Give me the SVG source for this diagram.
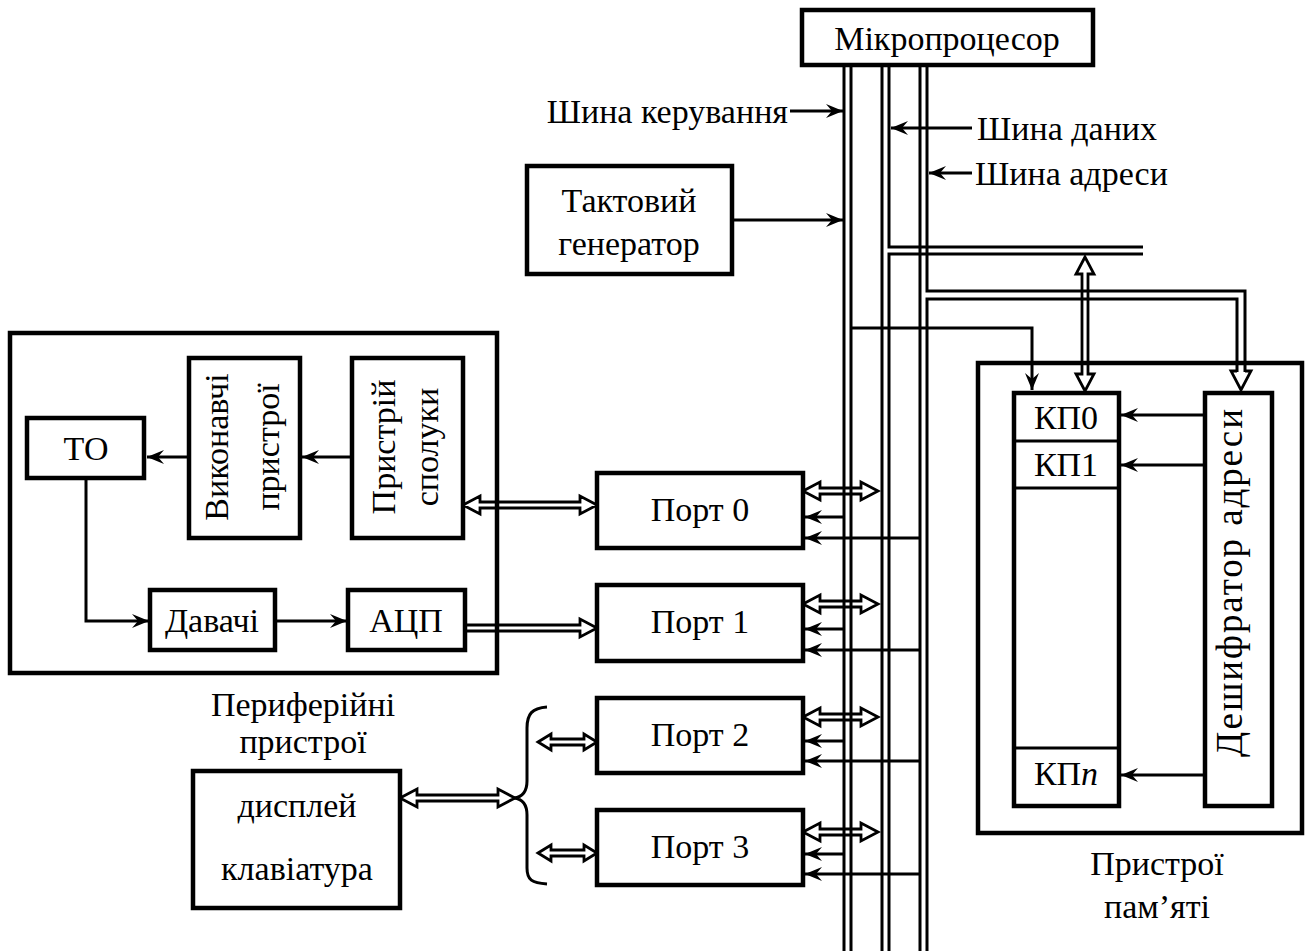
<svg xmlns="http://www.w3.org/2000/svg" width="1307" height="951" viewBox="0 0 1307 951">
  <style>
    .box { fill: #fff; stroke: #000; stroke-width: 4.5; }
    .frame { fill: none; stroke: #000; stroke-width: 4.5; }
    .ln { fill: none; stroke: #000; stroke-width: 3; }
    .bus { fill: none; stroke: #000; stroke-width: 3; }
    .dbl { fill: none; stroke: #000; stroke-width: 2.8; stroke-linejoin: miter; }
    .t { font-family: "Liberation Serif", "DejaVu Serif", "Noto Serif", "PT Serif", "FreeSerif", "Tinos", "Times New Roman", serif; font-size: 34px; fill: #000; }
    .c { text-anchor: middle; }
  </style>
  <defs>
    <marker id="arr" markerUnits="userSpaceOnUse" markerWidth="18" markerHeight="14" refX="17" refY="7" orient="auto">
      <path d="M0,0 L17,7 L0,14 L6,7 Z" fill="#000"/>
    </marker>
  </defs>

  <rect width="1307" height="951" fill="#fff"/>

  <!-- system buses -->
  <g id="buses">
    <!-- control bus -->
    <path class="bus" d="M844,66 V951 M851,66 V951"/>
    <!-- data bus with branch to memory -->
    <path class="bus" d="M882,66 V951 M889,66 V247 H1143 M1143,254 H889 V951"/>
    <!-- address bus with branch to decoder -->
    <path class="bus" d="M920,66 V951 M927,66 V291 H1245 V372 M927,951 V299 H1237 V372"/>
    <path class="dbl" d="M1237,371 H1231 L1241,390 L1251,371 H1245"/>
    <!-- control line to memory cells -->
    <path class="ln" d="M851,328 H1032 V390" marker-end="url(#arr)"/>
  </g>

  <!-- connectors -->
  <g id="connectors">
    <!-- bus labels -->
    <line class="ln" x1="790" y1="111" x2="843" y2="111" marker-end="url(#arr)"/>
    <line class="ln" x1="972" y1="128" x2="891" y2="128" marker-end="url(#arr)"/>
    <line class="ln" x1="972" y1="173" x2="929" y2="173" marker-end="url(#arr)"/>
    <!-- clock to control bus -->
    <line class="ln" x1="732" y1="220" x2="843" y2="220" marker-end="url(#arr)"/>

    <!-- data bus <-> memory -->
    <path class="dbl" d="M1085,257 L1076,274 L1082,274 L1082,374 L1076,374 L1085,391 L1094,374 L1088,374 L1088,274 L1094,274 Z"/>

    <!-- decoder to cells -->
    <line class="ln" x1="1205" y1="415" x2="1121" y2="415" marker-end="url(#arr)"/>
    <line class="ln" x1="1205" y1="465" x2="1121" y2="465" marker-end="url(#arr)"/>
    <line class="ln" x1="1205" y1="775" x2="1121" y2="775" marker-end="url(#arr)"/>

    <!-- ports: data (bidirectional), control and address -->
    <path class="dbl" d="M803,491 L820,482 L820,488 L861,488 L861,482 L878,491 L861,500 L861,494 L820,494 L820,500 Z"/>
    <line class="ln" x1="844" y1="517" x2="805" y2="517" marker-end="url(#arr)"/>
    <line class="ln" x1="920" y1="538" x2="805" y2="538" marker-end="url(#arr)"/>

    <path class="dbl" d="M803,604 L820,595 L820,601 L861,601 L861,595 L878,604 L861,613 L861,607 L820,607 L820,613 Z"/>
    <line class="ln" x1="844" y1="629" x2="805" y2="629" marker-end="url(#arr)"/>
    <line class="ln" x1="920" y1="650" x2="805" y2="650" marker-end="url(#arr)"/>

    <path class="dbl" d="M803,717 L820,708 L820,714 L861,714 L861,708 L878,717 L861,726 L861,720 L820,720 L820,726 Z"/>
    <line class="ln" x1="844" y1="741" x2="805" y2="741" marker-end="url(#arr)"/>
    <line class="ln" x1="920" y1="761" x2="805" y2="761" marker-end="url(#arr)"/>

    <path class="dbl" d="M803,832 L820,823 L820,829 L861,829 L861,823 L878,832 L861,841 L861,835 L820,835 L820,841 Z"/>
    <line class="ln" x1="844" y1="854" x2="805" y2="854" marker-end="url(#arr)"/>
    <line class="ln" x1="920" y1="874" x2="805" y2="874" marker-end="url(#arr)"/>

    <!-- peripheral internals -->
    <line class="ln" x1="189" y1="457" x2="147" y2="457" marker-end="url(#arr)"/>
    <line class="ln" x1="352" y1="457" x2="302" y2="457" marker-end="url(#arr)"/>
    <path class="ln" d="M86,478 V621 H149" marker-end="url(#arr)"/>
    <line class="ln" x1="275" y1="621" x2="347" y2="621" marker-end="url(#arr)"/>

    <!-- interface <-> port 0 -->
    <path class="dbl" d="M463,505 L480,496 L480,502 L580,502 L580,496 L597,505 L580,514 L580,508 L480,508 L480,514 Z"/>
    <!-- ADC -> port 1 -->
    <path class="dbl" d="M465,625 L580,625 L580,619 L597,628 L580,637 L580,631 L465,631"/>

    <!-- display/keyboard <-> ports 2,3 -->
    <path class="dbl" d="M400,798 L417,789 L417,795 L498,795 L498,789 L515,798 L498,807 L498,801 L417,801 L417,807 Z"/>
    <path class="ln" d="M547,707 C532,708 527,714 527,728 L527,781 C527,792 522,797 514,798 C522,799 527,804 527,815 L527,868 C527,880 532,883 547,884"/>
    <path class="dbl" d="M538,742 L551,734 L551,739 L584,739 L584,734 L597,742 L584,750 L584,745 L551,745 L551,750 Z"/>
    <path class="dbl" d="M538,853 L551,845 L551,850 L584,850 L584,845 L597,853 L584,861 L584,856 L551,856 L551,861 Z"/>
  </g>

  <!-- bus labels -->
  <g id="bus-labels">
    <text class="t" x="788" y="123" text-anchor="end">Шина керування</text>
    <text class="t" x="977" y="140">Шина даних</text>
    <text class="t" x="975" y="185">Шина адреси</text>
  </g>

  <g id="cpu">
    <rect class="box" x="802" y="10" width="291" height="55"/>
    <text class="t c" x="947" y="50">Мікропроцесор</text>
  </g>

  <g id="clock">
    <rect class="box" x="527" y="166" width="205" height="108"/>
    <text class="t c" x="629" y="212">Тактовий</text>
    <text class="t c" x="629" y="255">генератор</text>
  </g>

  <!-- peripheral subsystem -->
  <g id="peripheral">
    <rect class="frame" x="10" y="333" width="487" height="340"/>
    <text class="t c" x="303" y="716">Периферійні</text>
    <text class="t c" x="303" y="753">пристрої</text>
  </g>
  <g id="to">
    <rect class="box" x="27" y="418" width="117" height="60"/>
    <text class="t c" x="86" y="460">ТО</text>
  </g>
  <g id="actuators">
    <rect class="box" x="189" y="358" width="111" height="180"/>
    <text class="t c" transform="translate(228,447) rotate(-90)">Виконавчі</text>
    <text class="t c" transform="translate(279,447) rotate(-90)">пристрої</text>
  </g>
  <g id="interface">
    <rect class="box" x="352" y="358" width="111" height="180"/>
    <text class="t c" transform="translate(395,447) rotate(-90)">Пристрій</text>
    <text class="t c" transform="translate(438,447) rotate(-90)">сполуки</text>
  </g>
  <g id="sensors">
    <rect class="box" x="150" y="590" width="125" height="60"/>
    <text class="t c" x="212" y="632">Давачі</text>
  </g>
  <g id="adc">
    <rect class="box" x="348" y="590" width="117" height="60"/>
    <text class="t c" x="406" y="632">АЦП</text>
  </g>

  <g id="display">
    <rect class="box" x="193" y="771" width="207" height="137"/>
    <text class="t c" x="297" y="817">дисплей</text>
    <text class="t c" x="297" y="880">клавіатура</text>
  </g>

  <!-- I/O ports -->
  <g id="port0">
    <rect class="box" x="597" y="473" width="206" height="75"/>
    <text class="t c" x="700" y="521">Порт 0</text>
  </g>
  <g id="port1">
    <rect class="box" x="597" y="585" width="206" height="76"/>
    <text class="t c" x="700" y="633">Порт 1</text>
  </g>
  <g id="port2">
    <rect class="box" x="597" y="698" width="206" height="75"/>
    <text class="t c" x="700" y="746">Порт 2</text>
  </g>
  <g id="port3">
    <rect class="box" x="597" y="810" width="206" height="75"/>
    <text class="t c" x="700" y="858">Порт 3</text>
  </g>

  <!-- memory subsystem -->
  <g id="memory">
    <rect class="frame" x="978" y="363" width="324" height="470"/>
    <text class="t c" x="1157" y="875">Пристрої</text>
    <text class="t c" x="1157" y="918">пам’яті</text>
  </g>
  <g id="cells">
    <rect class="box" x="1014" y="393" width="105" height="413"/>
    <line class="ln" x1="1014" y1="441" x2="1119" y2="441"/>
    <line class="ln" x1="1014" y1="488" x2="1119" y2="488"/>
    <line class="ln" x1="1014" y1="748" x2="1119" y2="748"/>
    <text class="t c" x="1066" y="429">КП0</text>
    <text class="t c" x="1066" y="476">КП1</text>
    <text class="t c" x="1066" y="785">КП<tspan font-style="italic">n</tspan></text>
  </g>
  <g id="decoder">
    <text class="t c" style="font-size:37px" transform="translate(1242,583) rotate(-90)" textLength="348" lengthAdjust="spacing">Дешифратор адреси</text>
    <rect class="frame" x="1205" y="393" width="67" height="413"/>
  </g>
</svg>
